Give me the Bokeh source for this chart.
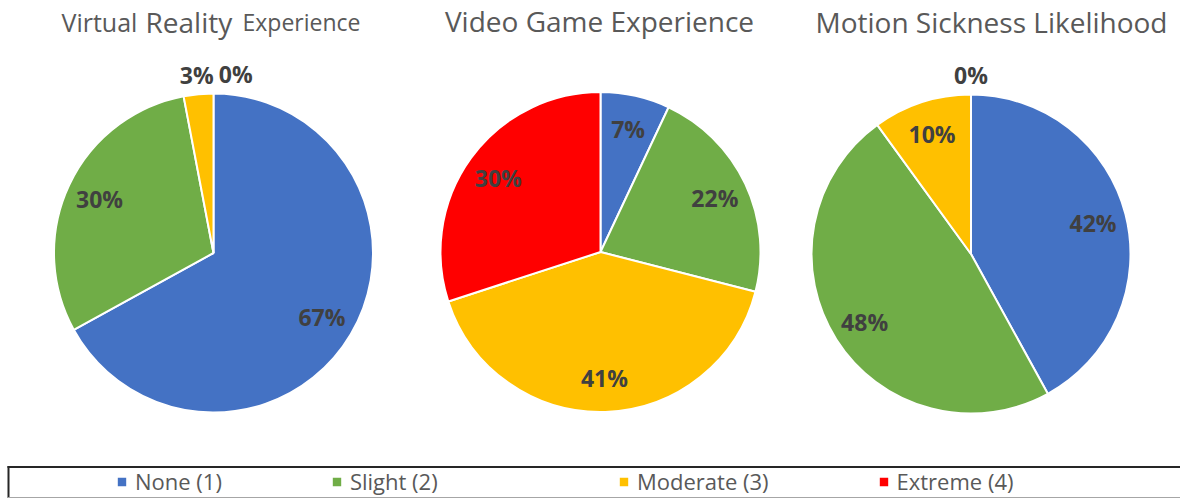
import numpy as np
from bokeh.plotting import figure
from bokeh.models import ColumnDataSource, Range1d, Legend, LegendItem, BoxAnnotation, Label
from bokeh.core.properties import value
from bokeh.embed import file_html
from bokeh.resources import INLINE

# ---------------- data ----------------
categories = ["None (1)", "Slight (2)", "Moderate (3)", "Extreme (4)"]
colors = ["#4472C4", "#70AD47", "#FFC000", "#FF0000"]
vr_experience = [67, 30, 3, 0]
game_experience = [7, 22, 41, 30]
motion_sickness = [42, 48, 10, 0]
title_vr = ["Virtual", "Reality", "Experience"]
title_game = "Video Game Experience"
title_motion = "Motion Sickness Likelihood"

# ---------------- layout ----------------
W, H = 1180, 498          # data x = page x, data y = 498 - page y
FONT = "Open Sans"
TITLE_COLOR = "#595959"
LABEL_COLOR = "#404040"

p = figure(width=W, height=H, x_range=Range1d(0, W), y_range=Range1d(0, H),
           output_backend="svg", toolbar_location=None, min_border=0)
p.axis.visible = False
p.grid.visible = False
p.outline_line_color = None
p.background_fill_color = "white"
p.border_fill_color = "white"


def py(page_y):
    return H - page_y


pies = [
    (vr_experience, 213, py(252.5), 159.5),
    (game_experience, 600, py(251.5), 160),
    (motion_sickness, 970.5, py(253.5), 159.5),
]

renderers = []
for vals, cx, cy, R in pies:
    v = np.array(vals, dtype=float)
    frac = v / v.sum()
    cum = np.concatenate([[0.0], np.cumsum(frac)])
    start = np.pi / 2 - 2 * np.pi * cum[1:]
    end = np.pi / 2 - 2 * np.pi * cum[:-1]
    keep = v > 0
    src = ColumnDataSource(dict(
        cat=[c for c, k in zip(categories, keep) if k],
        start=start[keep], end=end[keep],
        color=[c for c, k in zip(colors, keep) if k],
    ))
    r = p.wedge(x=cx, y=cy, radius=R, start_angle="start", end_angle="end",
                fill_color="color", line_color="white", line_width=2, source=src)
    renderers.append(r)

    # data labels
    mid = (cum[:-1] + cum[1:]) / 2 * 2 * np.pi   # clockwise from top
    lx, ly, lt = [], [], []
    prev_out_x = None
    for f, a, val in zip(frac, mid, vals):
        if f >= 0.05:
            rr = 0.79 * R
            x = cx + rr * np.sin(a)
            y = cy + rr * np.cos(a)
        else:
            rr = 1.12 * R
            x = cx + rr * np.sin(a)
            y = cy + rr * np.cos(a)
            if prev_out_x is not None and abs(x - prev_out_x) < 39:
                x = prev_out_x + 39
            prev_out_x = x
        lx.append(x)
        ly.append(y)
        lt.append(f"{val}%")
    p.text(x=lx, y=ly, text=lt, text_font=value(FONT), text_font_style="bold",
           text_font_size="23px", text_color=LABEL_COLOR,
           text_align="center", text_baseline="middle")

# ---------------- titles ----------------
for word, size, x in zip(title_vr, ["25px", "28px", "23px"], [61, 145, 242]):
    p.add_layout(Label(x=x, y=py(21.5), text=word, text_font=FONT, text_font_size=size,
                       text_color=TITLE_COLOR, text_align="left", text_baseline="alphabetic"))
p.add_layout(Label(x=599, y=py(20), text=title_game, text_font=FONT, text_font_size="28px",
                   text_color=TITLE_COLOR, text_align="center", text_baseline="alphabetic"))
p.add_layout(Label(x=991, y=py(21.5), text=title_motion, text_font=FONT, text_font_size="28px",
                   text_color=TITLE_COLOR, text_align="center", text_baseline="alphabetic"))

# ---------------- legend frame (top / left dark, bottom grey) ----------------
p.add_layout(BoxAnnotation(left=7, right=W, bottom=py(467.5), top=py(465.5),
                           fill_color="#262626", fill_alpha=1, line_color=None))
p.add_layout(BoxAnnotation(left=7, right=9, bottom=py(497.5), top=py(465.5),
                           fill_color="#262626", fill_alpha=1, line_color=None))
p.add_layout(BoxAnnotation(left=7, right=W, bottom=py(497.5), top=py(496.5),
                           fill_color="#a6a6a6", fill_alpha=1, line_color=None))

legend_groups = [((0, 1), (115, 2)), ((2, 3), (617, 2))]
for idxs, loc in legend_groups:
    items = [LegendItem(label=categories[i], renderers=[renderers[1]], index=i) for i in idxs]
    leg = Legend(items=items, orientation="horizontal", location=loc, spacing=108,
                 padding=0, margin=0, glyph_width=13, glyph_height=13, label_standoff=7,
                 label_text_font=FONT, label_text_font_size="22px", label_text_color=TITLE_COLOR,
                 label_height=24, border_line_color=None, background_fill_alpha=0)
    p.add_layout(leg)

open("out.html", "w").write(file_html(p, INLINE))
